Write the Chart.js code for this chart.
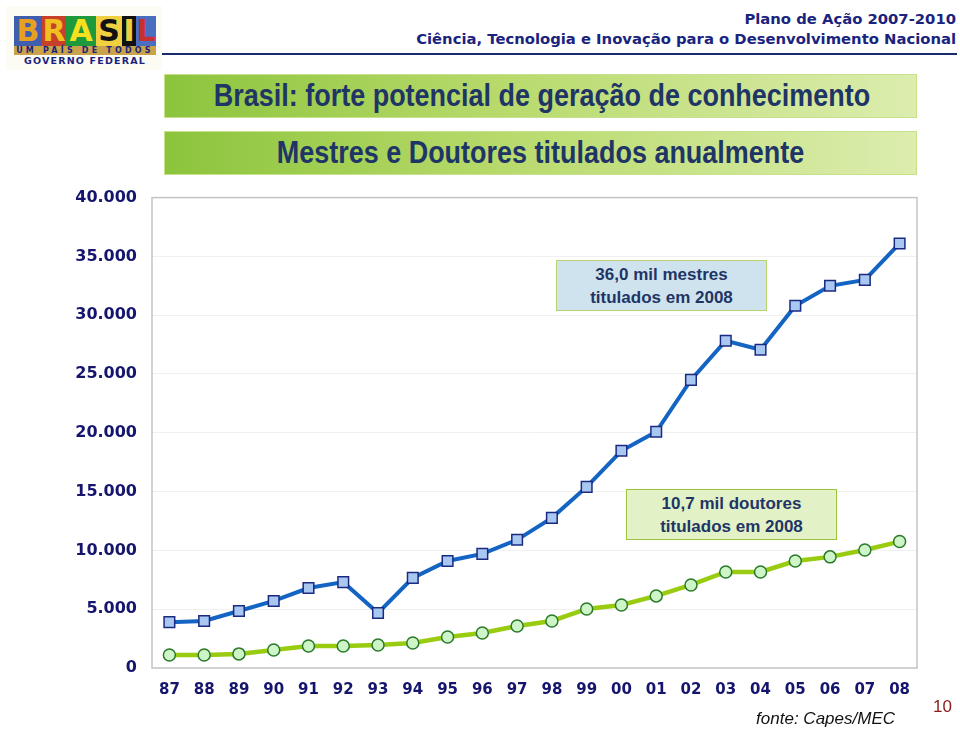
<!DOCTYPE html>
<html>
<head>
<meta charset="utf-8">
<script src="https://cdn.jsdelivr.net/npm/chart.js@4.4.1/dist/chart.umd.min.js"></script>
<style>
  body { margin:0; width:960px; height:732px; background:#fff; position:relative; overflow:hidden; font-family:"Liberation Sans", Arial, sans-serif; }
  .abs { position:absolute; }
  .hdr { right:4px; font-family:"DejaVu Sans", Verdana, sans-serif; font-weight:bold; color:#1a237e; font-size:14.8px; white-space:nowrap; }
  .tbox { left:164px; width:751px; height:42px; border:1px solid #c6e08c; background:linear-gradient(to right, #8cc43c 0%, #b8da6c 45%, #dcedae 100%); }
  .tbox span { display:block; text-align:center; line-height:42px; color:#1f3566; font-family:"Liberation Sans", Arial, sans-serif; font-weight:bold; font-size:31px; transform:scaleX(0.87); white-space:nowrap; }
  .note { width:211px; height:51px; color:#1f3566; font-size:17px; font-weight:bold; line-height:23px; text-align:center; box-sizing:border-box; padding-top:2px; }
  #logo { left:6px; top:6px; width:156px; height:64px; background:#fcfcf4; }
  .lb { position:absolute; top:10px; height:30px; font:bold 30px/30px "DejaVu Sans", sans-serif; color:#fff; text-align:center; overflow:hidden; }
</style>
</head>
<body>
<div id="logo" class="abs">
  <div class="lb" style="left:8px;width:28px;background:#3f5fae;color:#e8a020;">B</div>
  <div class="lb" style="left:36px;width:24px;background:#c8402a;color:#f0c020;">R</div>
  <div class="lb" style="left:60px;width:30px;background:#1e9a3c;color:#f6e020;">A</div>
  <div class="lb" style="left:90px;width:26px;background:#f0d040;color:#111;">S</div>
  <div class="lb" style="left:116px;width:14px;background:#111;color:#f0d040;">I</div>
  <div class="lb" style="left:130px;width:20px;background:#4a6ec0;color:#c83030;">L</div>
  <div class="abs" style="left:8px;top:40px;width:142px;height:9px;background:#c9a24a;color:#1a237e;font:bold 8px/9px 'DejaVu Sans',sans-serif;letter-spacing:3.2px;text-align:center;">UM PAÍS DE TODOS</div>
  <div class="abs" style="left:8px;top:49px;width:142px;height:11px;color:#1a237e;font:bold 9.5px/11px 'DejaVu Sans',sans-serif;letter-spacing:1.2px;text-align:center;">GOVERNO FEDERAL</div>
</div>
<div class="abs hdr" style="top:10px;">Plano de Ação 2007-2010</div>
<div class="abs hdr" style="top:30px;">Ciência, Tecnologia e Inovação para o Desenvolvimento Nacional</div>
<div class="abs" style="left:162px;top:53px;width:795px;height:2px;background:#1a2a70;"></div>

<div class="abs tbox" style="top:74px;"><span>Brasil: forte potencial de geração de conhecimento</span></div>
<div class="abs tbox" style="top:131px;"><span>Mestres e Doutores titulados anualmente</span></div>

<canvas id="chart" class="abs" style="left:0;top:173px;"></canvas>

<div class="abs note" style="left:556px;top:260px;background:#cfe3ee;border:1.5px solid #b8d46c;">36,0 mil mestres<br>titulados em 2008</div>
<div class="abs note" style="left:626px;top:489px;background:#e2f2c6;border:1.5px solid #9cc43c;">10,7 mil doutores<br>titulados em 2008</div>

<div class="abs" style="right:65px;top:709px;font-style:italic;font-size:17px;color:#111;">fonte: Capes/MEC</div>
<div class="abs" style="left:933px;top:697px;font-size:17px;color:#8b1a1a;">10</div>

<script>
var anos = ['87','88','89','90','91','92','93','94','95','96','97','98','99','00','01','02','03','04','05','06','07','08'];
var mestres = [3900, 4000, 4850, 5700, 6800, 7300, 4680, 7660, 9100, 9700, 10900, 12770, 15400, 18470, 20090, 24500, 27830, 27060, 30800, 32500, 33000, 36100];
var doutores = [1100, 1100, 1200, 1530, 1870, 1870, 1960, 2130, 2640, 2980, 3570, 4000, 5020, 5360, 6130, 7060, 8170, 8170, 9100, 9450, 10040, 10750];
var yTicks = [0, 5000, 10000, 15000, 20000, 25000, 30000, 35000, 40000];

var frame = {
  id: 'frame',
  afterDraw: function(chart) {
    var a = chart.chartArea, c = chart.ctx;
    c.save();
    c.strokeStyle = '#c4c4c4';
    c.lineWidth = 1.5;
    c.strokeRect(a.left, a.top, a.right - a.left, a.bottom - a.top);
    c.restore();
  }
};

var canvas = document.getElementById('chart');
canvas.width = 940; canvas.height = 537;

new Chart(canvas, {
  type: 'line',
  data: {
    labels: anos,
    datasets: [
      {
        label: 'Mestres',
        data: mestres,
        borderColor: '#1464c4',
        borderWidth: 4,
        pointStyle: 'rect',
        pointRadius: 7.5,
        pointBackgroundColor: '#a8c8f2',
        pointBorderColor: '#1a2a80',
        pointBorderWidth: 1.5,
        tension: 0
      },
      {
        label: 'Doutores',
        data: doutores,
        borderColor: '#99cc11',
        borderWidth: 4.5,
        pointStyle: 'circle',
        pointRadius: 6,
        pointBackgroundColor: '#cdf5c8',
        pointBorderColor: '#2a7a2a',
        pointBorderWidth: 1.5,
        tension: 0
      }
    ]
  },
  options: {
    responsive: false,
    animation: false,
    layout: { padding: { top: 9, right: 23, left: 0, bottom: 0 } },
    plugins: { legend: { display: false }, tooltip: { enabled: false } },
    scales: {
      x: {
        offset: true,
        grid: { display: false, drawTicks: false },
        border: { display: false },
        ticks: { padding: 13, color: '#15156e', font: { family: 'DejaVu Sans', weight: 'bold', size: 15 }, maxRotation: 0, autoSkip: false },
        afterFit: function(s) { s.height = 42; }
      },
      y: {
        min: 0, max: 40000,
        afterBuildTicks: function(s) { s.ticks = yTicks.map(function(v) { return { value: v }; }); },
        grid: { color: '#f0f0f0', drawTicks: false },
        border: { display: false },
        ticks: {
          padding: 15,
          color: '#15156e',
          font: { family: 'DejaVu Sans', weight: 'bold', size: 16 },
          callback: function(v) { return v === 0 ? '0' : (v / 1000) + '.000'; }
        },
        afterFit: function(s) { s.width = 152; }
      }
    }
  },
  plugins: [frame]
});
</script>
</body>
</html>
